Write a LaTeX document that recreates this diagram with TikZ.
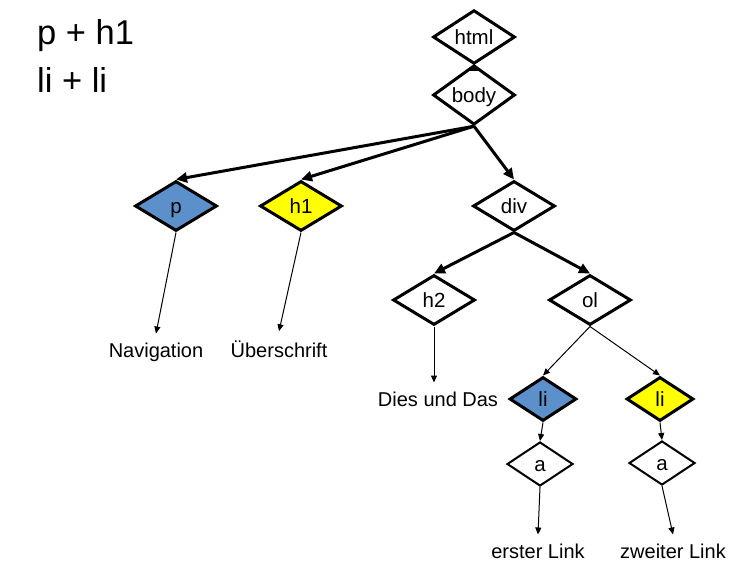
\documentclass[tikz,border=0pt]{standalone}
\usepackage{fontspec}
\setmainfont{Liberation Sans}
\usetikzlibrary{arrows.meta,shapes.geometric}
\definecolor{Pc}{HTML}{5B90CB}
\definecolor{Hc}{HTML}{FFFF00}
\tikzset{
  tag/.style={diamond, draw=black, line width=3pt, fill=white, inner sep=0pt,
    minimum width=82pt, minimum height=50pt, text height=15pt, text depth=0pt,
    font=\fontsize{20.5}{24}\selectfont},
  ltag/.style={tag, minimum width=67pt, minimum height=44pt},
  atag/.style={tag, line width=2pt, minimum width=66pt, minimum height=44pt},
  txt/.style={anchor=base, inner sep=0pt, outer sep=9pt, font=\fontsize{20}{24}\selectfont},
  head/.style={anchor=base west, inner sep=0pt, font=\fontsize{34.5}{40}\selectfont},
  big/.style={-{Triangle[length=11pt,width=10pt]}, line width=3pt},
  small/.style={-{Triangle[length=7pt,width=6pt]}, line width=1pt},
}
\begin{document}
\begin{tikzpicture}[x=1pt, y=-1pt]
  \useasboundingbox (0,0) rectangle (743,583);
  % headings
  \node[head] (hd1) at (37,45) {p + h1};
  \node[head] (hd2) at (37,93) {li + li};
  % element tree
  \node[tag] (html) at (474,37) {html};
  \node[tag, minimum height=54pt] (body) at (474,95) {body};
  \node[tag, fill=Pc] (p) at (176,206) {p};
  \node[tag, fill=Hc] (h1) at (301,206) {h1};
  \node[tag] (div) at (514,206) {div};
  \node[tag] (h2) at (434,300) {h2};
  \node[tag] (ol) at (590,300) {ol};
  \node[ltag, fill=Pc] (li1) at (543,399) {li};
  \node[ltag, fill=Hc] (li2) at (660,399) {li};
  \node[atag] (a1) at (540,464) {a};
  \node[atag] (a2) at (662,463) {a};
  % text content
  \node[txt] (nav) at (156,357) {Navigation};
  \node[txt] (ueb) at (279,357) {Überschrift};
  \node[txt] (dies) at (438,406) {Dies und Das};
  \node[txt] (lnk1) at (538,558) {erster Link};
  \node[txt] (lnk2) at (673,558) {zweiter Link};
  % connectors
  \draw[big, -{Triangle[length=7pt,width=8pt]}] (html.south) -- (body.north);
  \foreach \t in {p,h1,div} \draw[big] (body.south) -- (\t.north);
  \foreach \t in {h2,ol} \draw[big] (div.south) -- (\t.north);
  \foreach \t in {li1,li2} \draw[small] (ol.south) -- (\t.north);
  \draw[small] (li1.south) -- (a1.north);
  \draw[small] (li2.south) -- (a2.north);
  \draw[small] (p.south) -- (nav.north);
  \draw[small] (h1.south) -- (ueb.north);
  \draw[small] (h2.south) -- (h2.south |- dies.north);
  \draw[small] (a1.south) -- (lnk1.north);
  \draw[small] (a2.south) -- (lnk2.north);
\end{tikzpicture}
\end{document}
